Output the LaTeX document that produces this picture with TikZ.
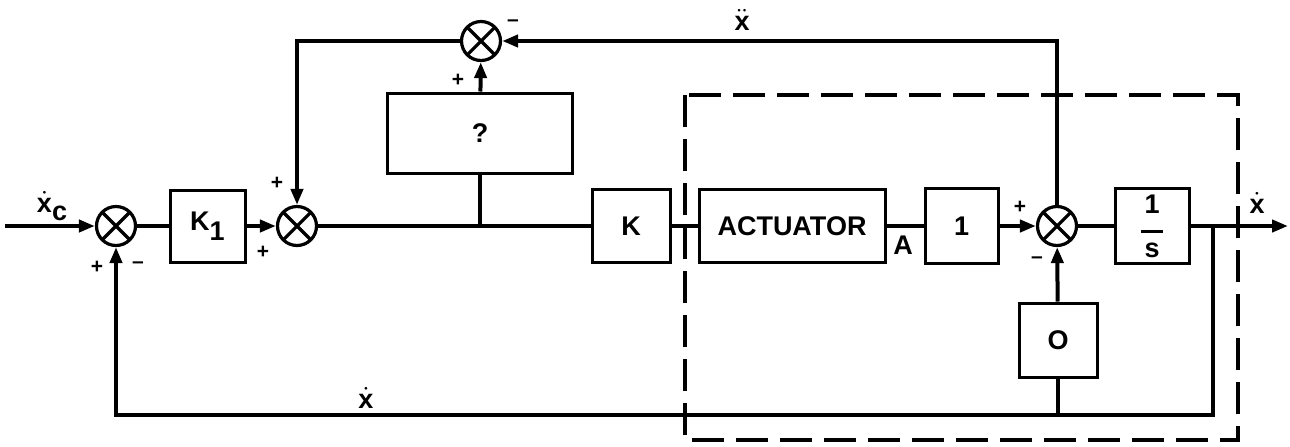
\documentclass[tikz,border=0pt]{standalone}
\usepackage{fontspec}
\setmainfont{Liberation Sans}
\usetikzlibrary{arrows.meta,positioning}
\newcommand{\xd}{$\dot{\mbox{x}}$}
\newcommand{\xdd}{$\ddot{\mbox{x}}$}

\begin{document}
\begin{tikzpicture}[x=0.5pt,y=-0.5pt,
		>={Triangle[length=8pt,width=6pt]},
		line width=2pt,
		font=\fontsize{13.5}{15}\selectfont\bfseries,
		sumnode/.style={circle,draw,line width=1.6pt,minimum size=19.5pt,inner sep=0pt,
			path picture={\draw[line width=1.6pt]
				(path picture bounding box.north west) -- (path picture bounding box.south east)
				(path picture bounding box.north east) -- (path picture bounding box.south west);}},
		blocknode/.style={rectangle,draw,line width=1.5pt,inner sep=0pt},
		signnode/.style={inner sep=0pt,font=\fontsize{10.5}{11}\selectfont\bfseries},
		labelnode/.style={inner sep=0pt},
		plantbox/.style={line width=2pt,dash pattern=on 16pt off 6pt}]
		\useasboundingbox (0,0) rectangle (1290,446);

		% forward path
		\node[sumnode] (s1) at (116,226) {};
		\node[blocknode,minimum width=37.5pt,minimum height=36pt] (k1) at (207.5,226) {K\raisebox{-.7ex}{1}};
		\node[sumnode] (s2) at (297,226) {};
		\node[sumnode] (s3) at (481,41) {};
		\node[blocknode,minimum width=92.5pt,minimum height=40pt] (q) at (480,133) {?};
		\node[blocknode,minimum width=39pt,minimum height=36.5pt] (k) at (631,226) {K};
		\node[blocknode,minimum width=93pt,minimum height=36.5pt] (act) at (792,226) {ACTUATOR};
		\node[blocknode,minimum width=36.5pt,minimum height=37.5pt] (one) at (961.5,226) {1};
		\node[sumnode] (s4) at (1057,226) {};
		\node[blocknode,minimum width=37pt,minimum height=37.5pt,align=center] (int) at (1152,226)
			{1\\[-5pt]\rule{11pt}{1.4pt}\\[-3pt]s};
		\node[blocknode,minimum width=39pt,minimum height=37pt] (o) at (1058,340) {O};

		\coordinate (in) at (5,226);
		\coordinate (out) at (1288,226);
		\coordinate (ob) at (1213,226);
		\coordinate (fb) at (1213,415);

		% plant
		\draw[plantbox] (685,95) rectangle (1238,440);

		\draw[->] (in) -- (s1);
		\draw (s1) -- (k1);
		\draw[->] (k1) -- (s2);
		\draw (s2) -- (k) (k) -- (act) (act) -- (one);
		\draw (q.south) -- (q.south |- s2);
		\draw[->] (q) -- (s3);
		\draw[->] (one) -- (s4);
		\draw (s4) -- (int);
		\draw[->] (int) -- (out);

		% feedback loops
		\draw[->] (s4) -- (s4 |- s3) -- (s3);
		\draw[->] (s3) -| (s2);
		\draw[->] (ob) -- (fb) -| (s1);
		\draw (o.south) -- (o.south |- fb);
		\draw[->] (o) -- (s4);

		% signs and signals
		\node[signnode] (p1) at (97,267) {+};
		\node[signnode] (m1) at (138,265) {--};
		\node[signnode] (p2) at (263,252) {+};
		\node[signnode] (p3) at (277,183) {+};
		\node[signnode] (p4) at (458,80) {+};
		\node[signnode] (m3) at (513,23) {--};
		\node[signnode] (p5) at (1020,207) {+};
		\node[signnode] (m4) at (1037,260) {--};
		\node[labelnode] (xc) at (52,206) {\xd\raisebox{-.6ex}{c}};
		\node[labelnode] (a) at (903,245) {A};
		\node[labelnode] (acc) at (742,20) {\xdd};
		\node[labelnode] (xout) at (1257,203) {\xd};
		\node[labelnode] (xfb) at (366,398) {\xd};
	\end{tikzpicture}
\end{document}
